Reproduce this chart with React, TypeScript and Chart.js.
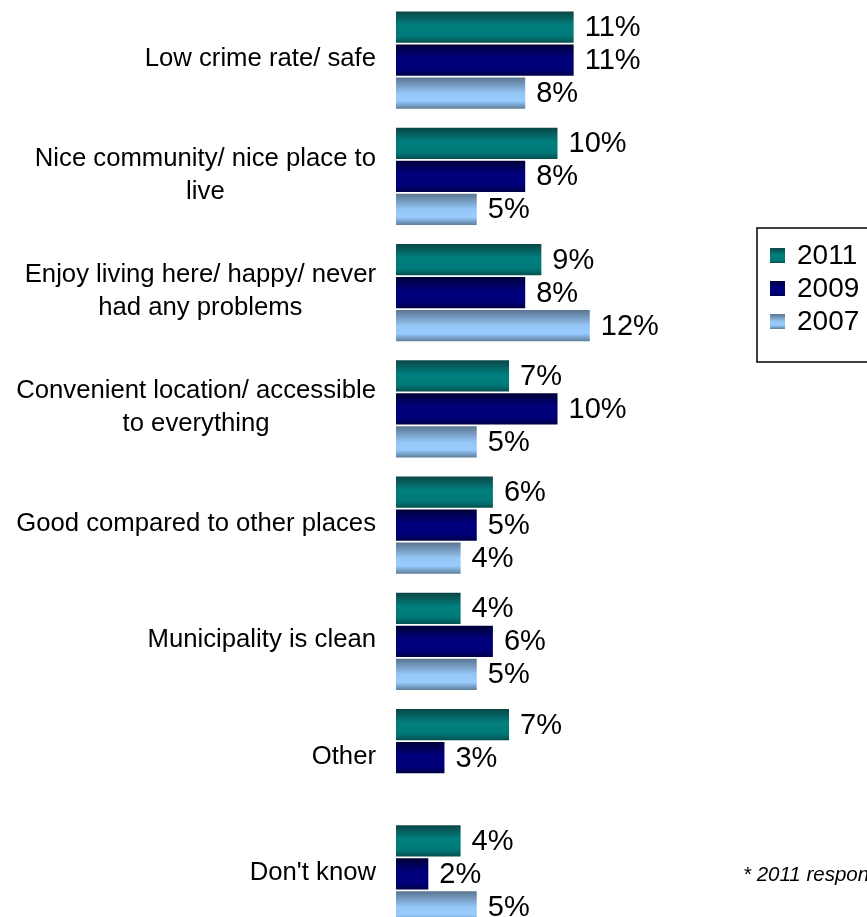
import React, { useEffect, useRef } from "react";
import { Chart, registerables } from "chart.js";

Chart.register(...registerables);

const categories: string[][] = [
  ["Low crime rate/ safe"],
  ["Nice community/ nice place to", "live"],
  ["Enjoy living here/ happy/ never", "had any problems"],
  ["Convenient location/ accessible", "to everything"],
  ["Good compared to other places"],
  ["Municipality is clean"],
  ["Other"],
  ["Don't know"],
];
const values2011: (number | null)[] = [11, 10, 9, 7, 6, 4, 7, 4];
const values2009: (number | null)[] = [11, 8, 8, 10, 5, 6, 3, 2];
const values2007: (number | null)[] = [8, 5, 12, 5, 4, 5, null, 5];
const seriesLabels = ["2011", "2009", "2007"];
const footnote = "* 2011 respondents only";

const FONT = '"Liberation Sans", Arial, sans-serif';

const gradientStops: [number, string][][] = [
  [[0, "#0b4646"], [0.45, "#007f7f"], [0.8, "#007878"], [1, "#055050"]],
  [[0, "#000038"], [0.45, "#00007f"], [0.8, "#000078"], [1, "#000048"]],
  [[0, "#5a7592"], [0.5, "#95c6f5"], [0.75, "#99ccff"], [1, "#5f7e9c"]],
];
const flatColors = ["#008080", "#000080", "#99ccff"];

function makeGradient(ctx: CanvasRenderingContext2D, top: number, bottom: number, s: number) {
  const g = ctx.createLinearGradient(0, top, 0, bottom);
  for (const [o, c] of gradientStops[s]) g.addColorStop(o, c);
  return g;
}

const bgFor = (s: number) => (c: any) => {
  const chart = c.chart;
  const meta = chart.getDatasetMeta(c.datasetIndex);
  const el: any = meta && meta.data ? meta.data[c.dataIndex] : null;
  if (!el || !isFinite(el.y) || !el.height) return flatColors[s];
  return makeGradient(chart.ctx, el.y - el.height / 2, el.y + el.height / 2, s);
};

const labelsPlugin = {
  id: "customLabels",
  afterDatasetsDraw(chart: any) {
    const ctx: CanvasRenderingContext2D = chart.ctx;
    ctx.save();
    // value labels
    ctx.font = `29px ${FONT}`;
    ctx.fillStyle = "#000";
    ctx.textBaseline = "middle";
    ctx.textAlign = "left";
    chart.data.datasets.forEach((ds: any, di: number) => {
      const meta = chart.getDatasetMeta(di);
      meta.data.forEach((el: any, i: number) => {
        const v = ds.data[i];
        if (v === null || v === undefined) return;
        ctx.fillText(`${v}%`, el.x + 11, el.y + 1);
      });
    });
    // category labels (right-aligned block, centered lines)
    const yScale = chart.scales.y;
    ctx.font = `25.7px ${FONT}`;
    ctx.textAlign = "center";
    const lineH = 33;
    categories.forEach((lines, i) => {
      const y = yScale.getPixelForValue(i);
      const widest = Math.max(...lines.map((l) => ctx.measureText(l).width));
      const cx = 376 - widest / 2;
      const y0 = y - ((lines.length - 1) * lineH) / 2 - 1;
      lines.forEach((l, k) => ctx.fillText(l, cx, y0 + k * lineH));
    });
    // legend
    const bx = 757, by = 228, bw = 200, bh = 134;
    ctx.lineWidth = 1.5;
    ctx.strokeStyle = "#000";
    ctx.strokeRect(bx, by, bw, bh);
    ctx.font = `28px ${FONT}`;
    ctx.textAlign = "left";
    chart.data.datasets.forEach((ds: any, di: number) => {
      const cy = 255.5 + di * 33;
      ctx.fillStyle = makeGradient(ctx, cy - 7.5, cy + 7.5, di);
      ctx.fillRect(770, cy - 7.5, 15, 15);
      ctx.fillStyle = "#000";
      ctx.fillText(ds.label, 797, cy + 1);
    });
    // footnote
    ctx.font = `italic 20.5px ${FONT}`;
    ctx.fillText(footnote, 743, 875);
    ctx.restore();
  },
};

export default function App() {
  const ref = useRef<HTMLCanvasElement | null>(null);
  useEffect(() => {
    if (!ref.current) return;
    const chart = new Chart(ref.current, {
      type: "bar",
      data: {
        labels: categories.map((c) => c.join(" ")),
        datasets: [
          { label: seriesLabels[0], data: values2011, backgroundColor: bgFor(0) },
          { label: seriesLabels[1], data: values2009, backgroundColor: bgFor(1) },
          { label: seriesLabels[2], data: values2007, backgroundColor: bgFor(2) },
        ],
      },
      options: {
        indexAxis: "y",
        responsive: false,
        animation: false,
        devicePixelRatio: 1,
        categoryPercentage: 0.852,
        barPercentage: 0.94,
        layout: { padding: { left: 396, right: 148, top: 2, bottom: 2 } },
        plugins: { legend: { display: false }, tooltip: { enabled: false } },
        scales: {
          x: { display: false, min: 0, max: 20 },
          y: { display: false },
        },
      } as any,
      plugins: [labelsPlugin],
    });
    chart.update();
    return () => chart.destroy();
  }, []);
  return (
    <div style={{ position: "absolute", left: 0, top: 0, width: 867, height: 934, overflow: "hidden", background: "#fff" }}>
      <canvas ref={ref} width={867} height={934} style={{ display: "block" }} />
    </div>
  );
}
